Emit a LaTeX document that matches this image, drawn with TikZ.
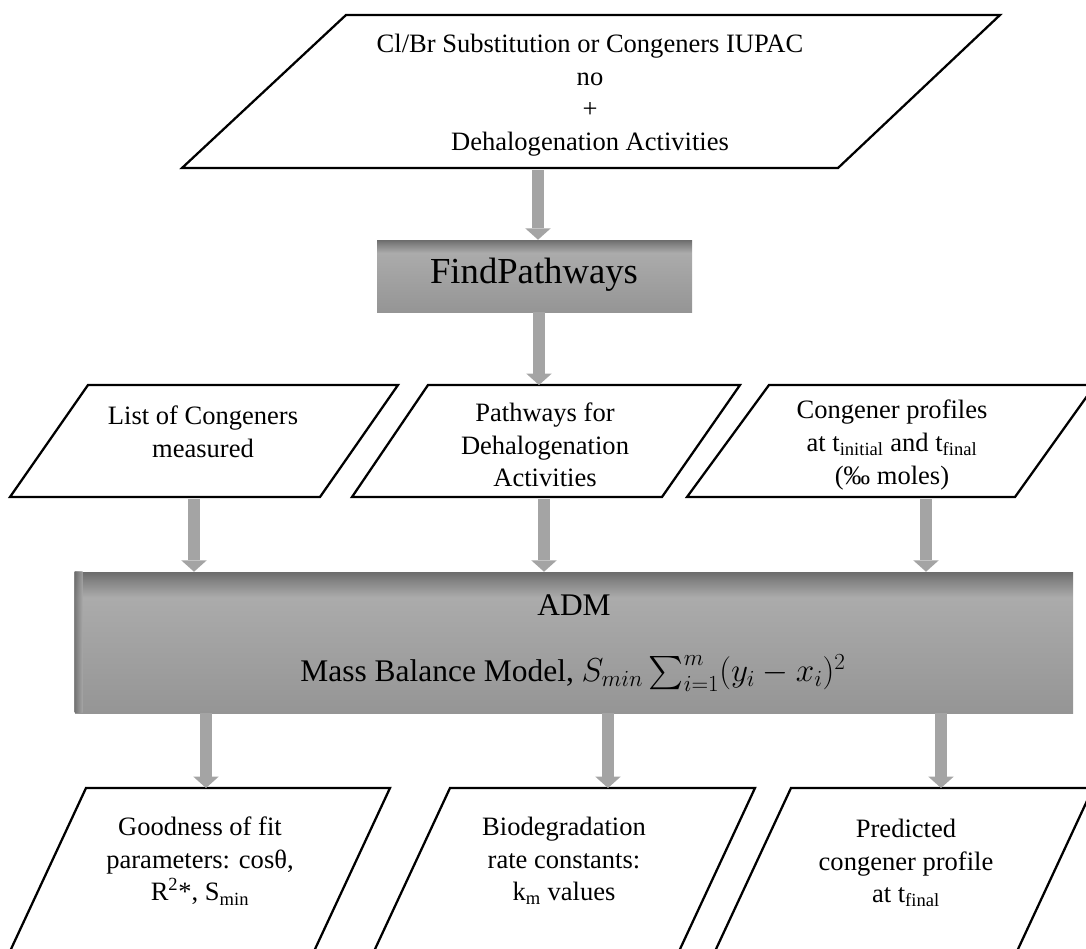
\documentclass[tikz,border=0pt]{standalone}
\usepackage{exscale}
\usepackage{fontspec}
\setmainfont{Liberation Serif}
\usetikzlibrary{arrows.meta}

\definecolor{boxlow}{HTML}{959595}
\definecolor{boxmid}{HTML}{ABABAB}
\definecolor{boxtop}{HTML}{838383}
\definecolor{boxedge}{HTML}{6C6C6C}
\definecolor{arrowgray}{HTML}{A4A4A4}
\pgfdeclareverticalshading{boxshade}{100bp}{color(0bp)=(boxlow); color(25bp)=(boxlow); color(66bp)=(boxmid); color(72bp)=(boxtop); color(75bp)=(boxedge); color(100bp)=(boxedge)}

\begin{document}
\begin{tikzpicture}[x=0.75pt, y=0.75pt,
  para/.style={draw, line width=1.7pt, line join=miter, fill=white},
  txt/.style={align=center, inner sep=0pt, font=\fontsize{19.9pt}{24.5pt}\selectfont},
  fat/.style={line width=9pt, draw=arrowgray, -{Triangle[width=19pt, length=8.5pt, line width=0pt]}},
  graybox/.style={shading=boxshade, inner sep=0pt}]
\path[use as bounding box] (0,0) rectangle (1086,-949);
\clip (0,0) rectangle (1086,-949);

% input
\draw[para] (346,-15) -- (1000,-15) -- (838,-168) -- (182,-168) -- cycle;
\node[txt] (input) at (590,-95) {Cl/Br Substitution or Congeners IUPAC\\ no\\ +\\ Dehalogenation Activities};
\coordinate (input-out) at (538,-170);

% FindPathways
\node[graybox, minimum width=236.25pt, minimum height=54pt] (find) at (534.5,-276) {};
\node[inner sep=0pt, font=\fontsize{27.5pt}{30pt}\selectfont] (findtxt) at (534,-275) {FindPathways};

% middle row
\draw[para] (88,-385) -- (398,-385) -- (320,-497) -- (10,-497) -- cycle;
\draw[para] (428,-385) -- (740,-385) -- (662,-497) -- (352,-497) -- cycle;
\draw[para] (769,-385) -- (1095,-385) -- (1015,-497) -- (687,-497) -- cycle;
\node[txt] (list) at (203,-432) {List of Congeners\\ measured};
\node[txt] (paths) at (545,-445) {Pathways for\\ Dehalogenation\\ Activities};
\node[txt] (profiles) at (892,-445) {Congener profiles\\ at t\textsubscript{initial} and t\textsubscript{final}\\ (‰ moles)};
\coordinate (paths-in) at (539,-385);
\coordinate (list-out) at (194,-499);
\coordinate (paths-out) at (544,-499);
\coordinate (profiles-out) at (926,-499);

% ADM
\node[graybox, minimum width=748.5pt, minimum height=105.75pt] (adm) at (574,-642.5) {};
\shade[left color=boxedge, right color=boxmid, opacity=.8] (adm.north west) rectangle ++(8,-141);
\node[inner sep=0pt, font=\fontsize{23.6pt}{26pt}\selectfont] (admtxt) at (574,-605) {ADM};
\node[inner sep=0pt, font=\fontsize{23.6pt}{28pt}\selectfont] (mass) at (573,-673) {Mass Balance Model, $S_{min}\sum_{i=1}^{m}(y_i-x_i)^2$};

% outputs
\draw[para] (86,-788) -- (390,-788) -- (309,-962) -- (5,-962) -- cycle;
\draw[para] (450,-788) -- (755,-788) -- (674,-962) -- (369,-962) -- cycle;
\draw[para] (791,-788) -- (1093,-788) -- (1012,-962) -- (710,-962) -- cycle;
\node[txt] (fit) at (200,-861) {Goodness of fit\\ parameters: cosθ,\\ R\textsuperscript{2}*, S\textsubscript{min}};
\node[txt] (rates) at (564,-861) {Biodegradation\\ rate constants:\\ k\textsubscript{m} values};
\node[txt] (predicted) at (906,-863) {Predicted\\ congener profile\\ at t\textsubscript{final}};
\coordinate (fit-in) at (206,-788);
\coordinate (rates-in) at (608,-788);
\coordinate (predicted-in) at (941,-788);

% arrows
\draw[fat] (input-out) -- (input-out |- find.north);
\draw[fat] (paths-in |- find.south) -- (paths-in);
\draw[fat] (list-out) -- (list-out |- adm.north);
\draw[fat] (paths-out) -- (paths-out |- adm.north);
\draw[fat] (profiles-out) -- (profiles-out |- adm.north);
\draw[fat] (fit-in |- adm.south) -- (fit-in);
\draw[fat] (rates-in |- adm.south) -- (rates-in);
\draw[fat] (predicted-in |- adm.south) -- (predicted-in);
\end{tikzpicture}
\end{document}
